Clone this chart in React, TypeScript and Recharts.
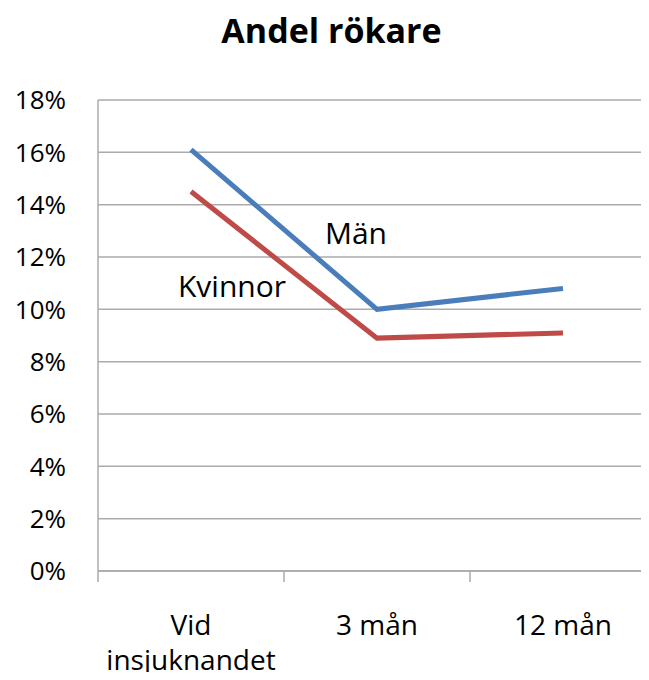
import { LineChart, Line, XAxis, YAxis, CartesianGrid, ReferenceDot } from 'recharts';

const categories = ['Vid insjuknandet', '3 mån', '12 mån'];
const categoryLines = [['Vid', 'insjuknandet'], ['3 mån'], ['12 mån']];
const man = [16.1, 10.0, 10.8];
const kvinnor = [14.5, 8.9, 9.1];
const yTicks = [0, 2, 4, 6, 8, 10, 12, 14, 16, 18];

// free-floating series labels, anchored to a category and a value
const noteText = ['Män', 'Kvinnor'];
const noteCategory = ['3 mån', 'Vid insjuknandet'];
const noteValue = [12.9, 10.9];
const noteShift = [-21, 41];

const FONT = '"Open Sans", sans-serif';
const GRID = '#ababab';
const HALF_STEP = 93;

const data = categories.map((c, i) => ({ cat: c, man: man[i], kvinnor: kvinnor[i] }));

function CatTick(props: any) {
  const { x, y, index } = props;
  const lines = categoryLines[index] ?? [props.payload.value];
  const last = index === categories.length - 1;
  return (
    <g>
      <line x1={x - HALF_STEP} x2={x - HALF_STEP} y1={y} y2={y + 11} stroke={GRID} strokeWidth={1.5} />
      {last && <line x1={x + HALF_STEP} x2={x + HALF_STEP} y1={y} y2={y + 11} stroke={GRID} strokeWidth={1.5} />}
      <text x={x} y={y + 64} textAnchor="middle" fontFamily={FONT} fontSize={28} fill="#000">
        {lines.map((l: string, k: number) => (
          <tspan key={k} x={x} dy={k === 0 ? 0 : 35}>
            {l}
          </tspan>
        ))}
      </text>
    </g>
  );
}

export default function App() {
  return (
    <div style={{ position: 'relative', margin: -8, width: 649, height: 680, overflow: 'hidden', background: '#fff' }}>
      <div
        style={{
          position: 'absolute',
          top: 7,
          left: 7,
          width: 649,
          textAlign: 'center',
          fontFamily: FONT,
          fontWeight: 700,
          fontSize: 34,
          color: '#000',
        }}
      >
        Andel rökare
      </div>
      <LineChart width={680} height={680} data={data} margin={{ top: 100, right: 24, left: 0, bottom: 0 }}>
        <CartesianGrid vertical={false} stroke={GRID} strokeWidth={1.5} />
        <XAxis
          dataKey="cat"
          height={109}
          padding={{ left: HALF_STEP, right: HALF_STEP }}
          stroke={GRID}
          strokeWidth={1.5}
          tickLine={false}
          tickSize={0}
          tickMargin={0}
          interval={0}
          tick={<CatTick />}
        />
        <YAxis
          width={98}
          domain={[0, 18]}
          ticks={yTicks}
          tickFormatter={(v) => `${v}%`}
          stroke={GRID}
          strokeWidth={1.5}
          tickLine={false}
          tickSize={0}
          tickMargin={32}
          tick={{ fill: '#000', fontSize: 26, fontFamily: FONT }}
        />
        <Line
          type="linear"
          dataKey="man"
          stroke="#4a7ebb"
          strokeWidth={5}
          dot={false}
          isAnimationActive={false}
        />
        <Line
          type="linear"
          dataKey="kvinnor"
          stroke="#be4b48"
          strokeWidth={5}
          dot={false}
          isAnimationActive={false}
        />
        {noteText.map((t, i) => (
          <ReferenceDot
            key={t}
            x={noteCategory[i]}
            y={noteValue[i]}
            r={1}
            fill="none"
            stroke="none"
            label={(p: any) => {
              const vb = p.viewBox ?? {};
              const cx = (vb.x ?? 0) + (vb.width ?? 0) / 2;
              const cy = (vb.y ?? 0) + (vb.height ?? 0) / 2;
              return (
                <text x={cx + noteShift[i]} y={cy} dy="0.36em" textAnchor="middle" fontFamily={FONT} fontSize={30} fill="#000">
                  {t}
                </text>
              );
            }}
          />
        ))}
      </LineChart>
    </div>
  );
}
